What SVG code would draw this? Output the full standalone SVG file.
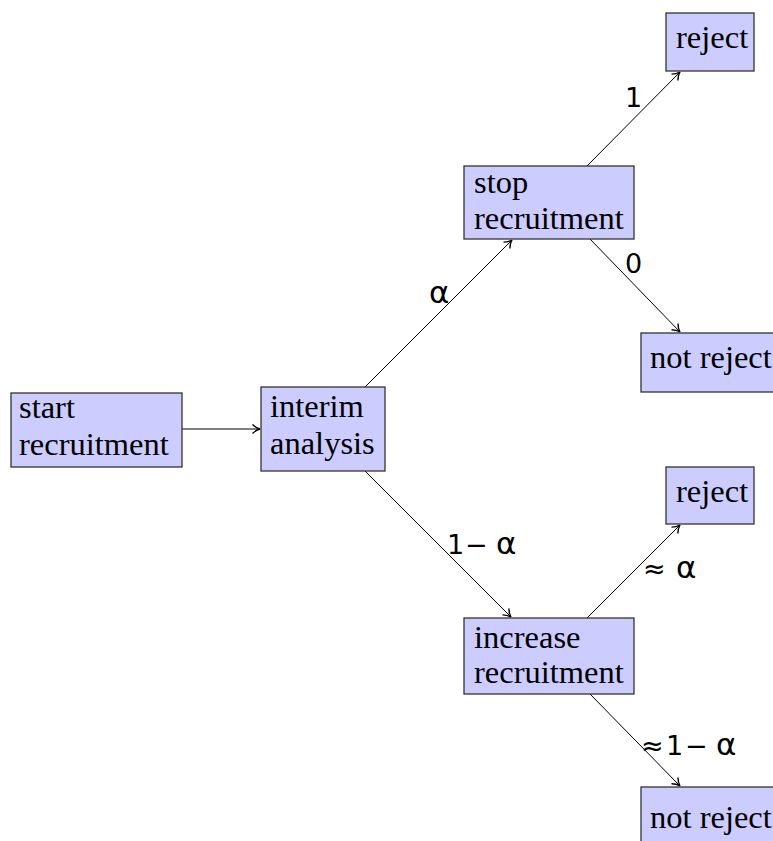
<svg xmlns="http://www.w3.org/2000/svg" width="773" height="841" viewBox="0 0 773 841">
<style>
.box{fill:#ccccff;stroke:#333;stroke-width:1.3}
.t{font-family:"Liberation Serif","Times New Roman",serif;font-size:32.5px;fill:#000}
.m{font-family:"DejaVu Sans","Liberation Sans",sans-serif;font-size:27px;fill:#000}
.a{font-size:31px}
.e{fill:none;stroke:#000;stroke-width:1}
</style>
<defs>
<marker id="ah" markerWidth="12" markerHeight="12" refX="10" refY="6" orient="auto" markerUnits="userSpaceOnUse">
<path d="M2.5,1.5 Q6,5 10,6 Q6,7 2.5,10.5" fill="none" stroke="#000" stroke-width="1.4"/>
</marker>
</defs>
<g id="connectors">
<line class="e" x1="182" y1="429" x2="260" y2="429" marker-end="url(#ah)"/>
<line class="e" x1="365" y1="387" x2="512" y2="240" marker-end="url(#ah)"/>
<line class="e" x1="365" y1="471" x2="511" y2="617" marker-end="url(#ah)"/>
<line class="e" x1="587" y1="166" x2="680" y2="72" marker-end="url(#ah)"/>
<line class="e" x1="590" y1="239" x2="680" y2="332" marker-end="url(#ah)"/>
<line class="e" x1="587" y1="618" x2="680" y2="525" marker-end="url(#ah)"/>
<line class="e" x1="590" y1="694" x2="680" y2="786" marker-end="url(#ah)"/>
<text class="m a" x="429" y="303">α</text>
<text class="m" x="625" y="107">1</text>
<text class="m" x="625" y="273">0</text>
<text class="m" y="554"><tspan x="447">1</tspan><tspan x="465">−</tspan><tspan class="a" x="496">α</tspan></text>
<text class="m" y="578"><tspan x="643">≈</tspan><tspan class="a" x="676">α</tspan></text>
<text class="m" y="755"><tspan x="641">≈</tspan><tspan x="666">1</tspan><tspan x="685">−</tspan><tspan class="a" x="716">α</tspan></text>
</g>
<g id="start">
<rect class="box" x="11" y="393" width="171" height="74"/>
<text class="t" x="19" y="418">start</text>
<text class="t" x="19" y="455">recruitment</text>
</g>
<g id="interim">
<rect class="box" x="261" y="387" width="124" height="84"/>
<text class="t" x="270" y="417">interim</text>
<text class="t" x="270" y="454">analysis</text>
</g>
<g id="stop">
<rect class="box" x="464" y="166" width="170" height="73"/>
<text class="t" x="474" y="193">stop</text>
<text class="t" x="474" y="229">recruitment</text>
</g>
<g id="increase">
<rect class="box" x="464" y="618" width="170" height="76"/>
<text class="t" x="474" y="648">increase</text>
<text class="t" x="474" y="683">recruitment</text>
</g>
<g id="reject1">
<rect class="box" x="666" y="13" width="88" height="58"/>
<text class="t" x="676" y="48">reject</text>
</g>
<g id="notreject1">
<rect class="box" x="641" y="333" width="140" height="59"/>
<text class="t" x="650" y="368">not reject</text>
</g>
<g id="reject2">
<rect class="box" x="666" y="467" width="88" height="57"/>
<text class="t" x="676" y="502">reject</text>
</g>
<g id="notreject2">
<rect class="box" x="641" y="787" width="140" height="60"/>
<text class="t" x="650" y="828">not reject</text>
</g>
</svg>
